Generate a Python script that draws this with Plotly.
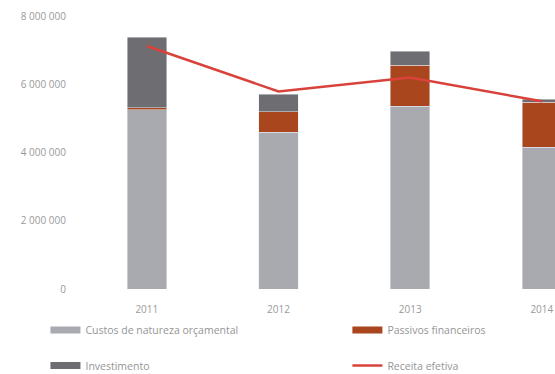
import plotly.graph_objects as go

years = ["2011", "2012", "2013", "2014"]
custos = [5260000, 4590000, 5350000, 4150000]
passivos = [50000, 610000, 1210000, 1320000]
investimento = [2070000, 510000, 410000, 90000]
receita = [7120000, 5790000, 6200000, 5500000]

y_tickvals = [0, 2000000, 4000000, 6000000, 8000000]
y_ticktext = ["0", "2 000 000", "4 000 000", "6 000 000", "8 000 000"]

c_custos = "#a8aaaf"
c_passivos = "#a9461d"
c_invest = "#6e6d71"
c_receita = "#d9423b"

fig = go.Figure()
fig.add_bar(x=years, y=custos, marker_color=c_custos, showlegend=False, legendgroup="c")
fig.add_bar(x=years, y=passivos, marker_color=c_passivos, showlegend=False, legendgroup="p")
fig.add_bar(x=years, y=investimento, marker_color=c_invest, showlegend=False, legendgroup="i")
fig.add_scatter(x=years, y=receita, mode="lines", line=dict(color=c_receita, width=2.5),
                showlegend=False, legendgroup="r")

# legend entries (wide swatches), one legend box per entry for a 2x2 grid
def leg(name, color, width, group, legend):
    fig.add_scatter(x=[None], y=[None], mode="lines", name=name,
                    line=dict(color=color, width=width), legendgroup=group, legend=legend)

leg("Custos de natureza orçamental", c_custos, 7, "c", "legend")
leg("Passivos financeiros", c_passivos, 7, "p", "legend2")
leg("Investimento", c_invest, 7, "i", "legend3")
leg("Receita efetiva", c_receita, 2.5, "r", "legend4")

font = dict(family="Open Sans, sans-serif", size=10, color="#999999")
legcommon = dict(orientation="h", xanchor="left", yanchor="middle",
                 font=dict(family="Open Sans, sans-serif", size=10.5, color="#959595"),
                 bgcolor="rgba(0,0,0,0)", itemwidth=30)

xl, xr = -0.075, 0.562
y1, y2 = -0.150, -0.280

fig.update_layout(
    width=555, height=374,
    margin=dict(l=81, r=0, t=16, b=85, autoexpand=False),
    paper_bgcolor="white", plot_bgcolor="white",
    barmode="stack", bargap=0.7,
    font=font,
    xaxis=dict(type="category", range=[-0.5, 3.1], showgrid=False, zeroline=False,
               showline=False, ticks="", ticklabelstandoff=13),
    yaxis=dict(range=[0, 8000000], tickvals=y_tickvals, ticktext=y_ticktext,
               showgrid=False, zeroline=False, showline=False, ticklabelstandoff=14),
    legend=dict(x=xl, y=y1, **legcommon),
    legend2=dict(x=xr, y=y1, **legcommon),
    legend3=dict(x=xl, y=y2, **legcommon),
    legend4=dict(x=xr, y=y2, **legcommon),
)

fig.write_html("out.html")
